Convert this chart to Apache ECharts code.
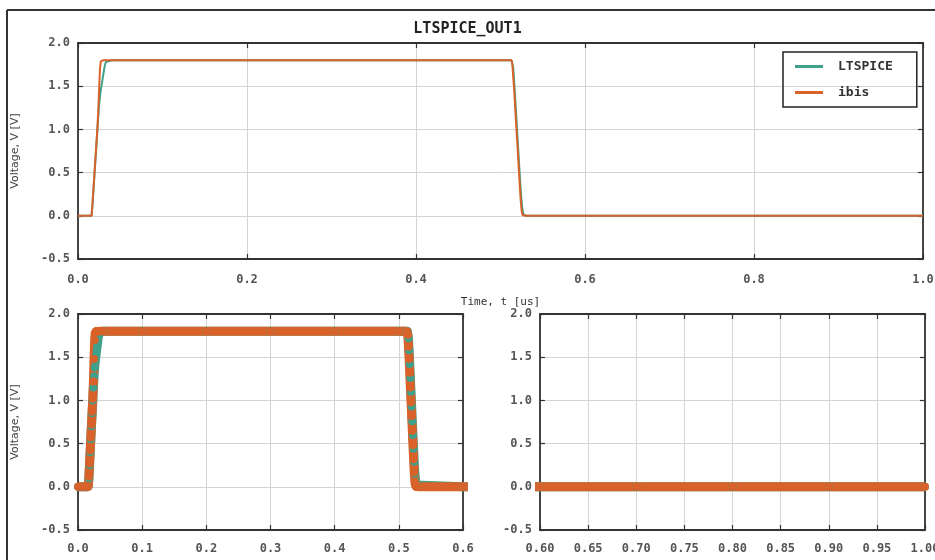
<!DOCTYPE html>
<html>
<head>
<meta charset="utf-8">
<script src="https://cdn.jsdelivr.net/npm/echarts@6/dist/echarts.min.js"></script>
<style>
  html, body { margin: 0; padding: 0; background: #fff; }
  #main { width: 935px; height: 560px; }
</style>
</head>
<body>
<div id="main"></div>
<script>
// waveform samples (time in us, voltage in V)
const timeUs = [0.000, 0.010, 0.016, 0.017, 0.018, 0.019, 0.020, 0.021, 0.022, 0.023,
  0.024, 0.025, 0.026, 0.027, 0.028, 0.029, 0.030, 0.031, 0.032, 0.033,
  0.034, 0.035, 0.040, 0.100, 0.200, 0.300, 0.400, 0.500, 0.513, 0.514,
  0.515, 0.516, 0.517, 0.518, 0.519, 0.520, 0.521, 0.522, 0.523, 0.524,
  0.525, 0.526, 0.527, 0.528, 0.530, 0.600, 0.700, 0.800, 0.900, 1.000]
const ltspiceV = [0, 0, 0, 0.10, 0.25, 0.40, 0.55, 0.70, 0.85, 1.00,
  1.15, 1.28, 1.38, 1.46, 1.52, 1.58, 1.64, 1.70, 1.75, 1.78,
  1.80, 1.80, 1.80, 1.80, 1.80, 1.80, 1.80, 1.80, 1.80, 1.80,
  1.72, 1.58, 1.42, 1.26, 1.10, 0.93, 0.76, 0.60, 0.44, 0.29,
  0.16, 0.07, 0.02, 0, 0, 0, 0, 0, 0, 0]
const ibisV = [0, 0, 0, 0.12, 0.27, 0.42, 0.57, 0.72, 0.87, 1.02,
  1.22, 1.48, 1.70, 1.79, 1.80, 1.80, 1.80, 1.80, 1.80, 1.80,
  1.80, 1.80, 1.80, 1.80, 1.80, 1.80, 1.80, 1.80, 1.80, 1.76,
  1.62, 1.48, 1.32, 1.15, 0.98, 0.82, 0.65, 0.48, 0.32, 0.17,
  0.06, 0.01, 0, 0, 0, 0, 0, 0, 0, 0]
const seriesNames = ['LTSPICE', 'ibis']
const yTicks = { min: -0.5, max: 2.0, interval: 0.5 }

const colors = ['#3fa18c', '#d9622a']
const mono = 'DejaVu Sans Mono'

const zip = (xs, ys) => xs.map((x, i) => [x, ys[i]])
const ltData = zip(timeUs, ltspiceV)
const ibisData = zip(timeUs, ibisV)

// the three panels: [left, top, width, height, xmin, xmax, xstep, decimals, label margin]
const panels = [
  [78, 43, 845, 216, 0, 1.0, 0.2, 1, 15],
  [78, 314, 385, 216, 0, 0.6, 0.1, 1, 13],
  [540, 314, 385, 216, 0.6, 1.0, 0.05, 2, 13]
]

const grid = []
const xAxis = []
const yAxis = []
const frame = { show: true, onZero: false, lineStyle: { color: '#333', width: 1.8 } }
const tick = { show: true, inside: true, length: 5, lineStyle: { color: '#333', width: 1.2 } }
const labelStyle = { fontFamily: mono, fontWeight: 'bold', fontSize: 12, color: '#555' }
const gridLine = { show: true, lineStyle: { color: '#d4d4d4', width: 1 } }

panels.forEach((p, i) => {
  grid.push({ left: p[0], top: p[1], width: p[2], height: p[3], outerBoundsMode: 'none' })
  const dec = p[7]
  xAxis.push({
    type: 'value', gridIndex: i, position: 'bottom', min: p[4], max: p[5], interval: p[6],
    axisLine: frame, axisTick: tick,
    axisLabel: Object.assign({ margin: p[8], formatter: v => v.toFixed(dec) }, labelStyle),
    splitLine: gridLine,
    name: i === 0 ? 'Time, t [us]' : '', nameLocation: 'middle', nameGap: 38,
    nameTextStyle: { fontFamily: mono, fontSize: 11, color: '#333' }
  })
  xAxis.push({
    type: 'value', gridIndex: i, position: 'top', min: p[4], max: p[5], interval: p[6],
    axisLine: frame, axisTick: tick, axisLabel: { show: false }, splitLine: { show: false }
  })
  yAxis.push({
    type: 'value', gridIndex: i, position: 'left', min: yTicks.min, max: yTicks.max, interval: yTicks.interval,
    axisLine: frame, axisTick: tick,
    axisLabel: Object.assign({ margin: 8, formatter: v => v.toFixed(1) }, labelStyle),
    splitLine: gridLine,
    name: i === 2 ? '' : 'Voltage, V [V]', nameLocation: 'middle', nameGap: 57,
    nameTextStyle: { fontFamily: 'DejaVu Sans', fontSize: 11, color: '#444' }
  })
  yAxis.push({
    type: 'value', gridIndex: i, position: 'right', min: yTicks.min, max: yTicks.max, interval: yTicks.interval,
    axisLine: frame, axisTick: tick, axisLabel: { show: false }, splitLine: { show: false }
  })
})

const series = []
// top panel: thin lines
;[ltData, ibisData].forEach((d, k) => {
  series.push({
    name: seriesNames[k], type: 'line', xAxisIndex: 0, yAxisIndex: 0, data: d,
    symbol: 'none', lineStyle: { color: colors[k], width: 2 }, itemStyle: { color: colors[k] },
    animation: false
  })
})
// bottom panels: dense markers
;[1, 2].forEach(i => {
  ;[ltData, ibisData].forEach((d, k) => {
    series.push({
      name: seriesNames[k], type: 'line', xAxisIndex: i * 2, yAxisIndex: i * 2, data: d,
      symbol: 'circle', symbolSize: 8, showAllSymbol: true,
      lineStyle: { color: colors[k], width: 9 }, itemStyle: { color: colors[k] },
      clip: true, animation: false
    })
  })
})

const chart = echarts.init(document.getElementById('main'))
chart.setOption({
  backgroundColor: '#fff',
  animation: false,
  title: {
    text: 'LTSPICE_OUT1', left: 'center', top: 17,
    textStyle: { fontFamily: mono, fontWeight: 'bold', fontSize: 15, color: '#222' }
  },
  legend: {
    data: seriesNames.map(n => ({ name: n, icon: 'rect' })),
    orient: 'vertical', left: 783, top: 52,
    borderColor: '#222', borderWidth: 1.5, padding: [8, 24, 8, 12],
    itemWidth: 28, itemHeight: 3, itemGap: 13,
    textStyle: { fontFamily: mono, fontWeight: 'bold', fontSize: 13, color: '#333', padding: [0, 0, 0, 10] }
  },
  graphic: [
    { type: 'line', shape: { x1: 7, y1: 10, x2: 935, y2: 10 }, style: { stroke: '#333', lineWidth: 2 } },
    { type: 'line', shape: { x1: 7, y1: 10, x2: 7, y2: 560 }, style: { stroke: '#333', lineWidth: 2 } }
  ],
  grid, xAxis, yAxis, series
})
</script>
</body>
</html>
